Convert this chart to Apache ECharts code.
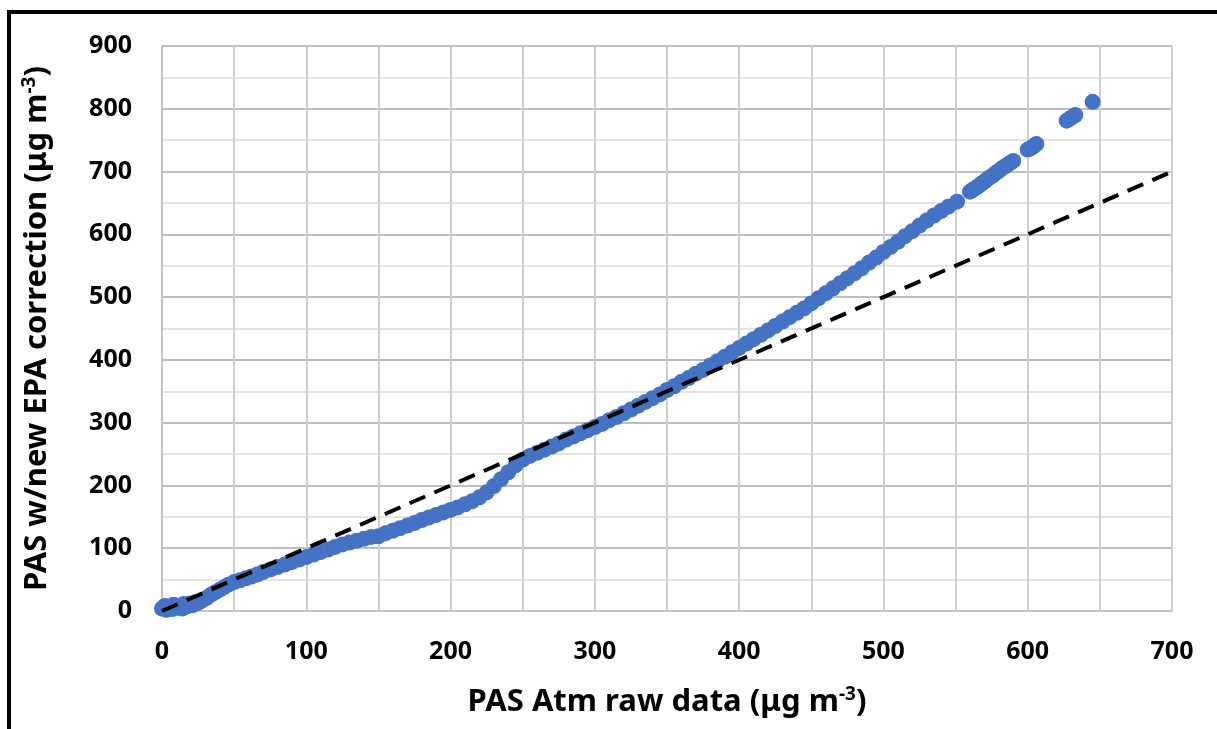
<!DOCTYPE html>
<html>
<head>
<meta charset="utf-8">
<script src="https://cdn.jsdelivr.net/npm/echarts@6/dist/echarts.min.js"></script>
<style>
  html, body { margin: 0; padding: 0; background: #fff; }
  #main { width: 1217px; height: 729px; }
</style>
</head>
<body>
<div id="main"></div>
<script>
// PAS raw vs corrected values
var rawX = [0, 2, 3, 5, 7, 8, 10, 12, 14, 15, 17, 19, 21, 23, 25, 28, 31, 34, 37, 40,
  43, 46, 50, 54, 58, 62, 66, 70, 75, 80, 85, 90, 95, 100, 105, 110, 115, 120, 125, 130,
  135, 140, 145, 150, 155, 160, 165, 170, 175, 180, 185, 190, 195, 200, 205, 210, 215, 220, 225, 230,
  235, 240, 245, 250, 255, 260, 265, 270, 275, 280, 285, 290, 295,
  300, 305, 310, 315, 320, 325, 330, 335, 340, 345, 350, 355, 360, 365, 370, 375, 380, 385, 390, 395,
  400, 405, 410, 415, 420, 425, 430, 435, 440, 445, 450, 455, 460, 465, 470, 475, 480, 485, 490, 495,
  500, 505, 510, 515, 520, 525, 530, 535, 540, 545, 551,
  560, 562, 564, 566, 568, 570, 572, 574, 576, 578, 580, 582, 584, 586, 588, 590,
  600, 602, 604, 606, 627, 629, 631, 633, 645];
var correctedY = [4, 8, 2, 6, 3, 10, 5, 8, 4, 11, 7, 12, 9, 14, 13, 17, 21, 26, 30, 34,
  38, 42, 46, 49, 52, 55, 58, 62, 66, 70, 74, 78, 82, 86, 90, 94, 98, 102, 106, 109,
  112, 115, 118, 119, 124, 128, 132, 136, 140, 145, 149, 153, 157, 161, 165, 170, 175, 181, 189, 199,
  210, 221, 232, 241, 247, 252, 257, 262, 267, 273, 278, 283, 288,
  293, 298, 304, 309, 315, 321, 327, 333, 339, 345, 352, 358, 365, 371, 378, 384, 391, 398, 405, 412,
  419, 426, 433, 440, 447, 454, 461, 468, 475, 482, 490, 498, 506, 514, 522, 530, 538, 546, 555, 563,
  572, 580, 588, 597, 605, 614, 622, 630, 637, 644, 652,
  668, 671, 674, 677, 681, 684, 688, 691, 694, 698, 701, 705, 708, 711, 714, 717,
  735, 737, 740, 744, 781, 784, 787, 790, 811];
// 1:1 reference line
var oneToOne = [[0, 0], [700, 700]];
var xTicks = [0, 100, 200, 300, 400, 500, 600, 700];

var points = rawX.map(function (x, i) { return [x, correctedY[i]]; });

var font = '"Noto Sans", "Open Sans", sans-serif';
var supStyle = { fontFamily: font, fontWeight: 'bold', fontSize: 19, color: '#000', padding: [0, 0, 15, 0] };
var chart = echarts.init(document.getElementById('main'));
var option = {
  backgroundColor: '#fff',
  animation: false,
  graphic: [{
    type: 'rect',
    shape: { x: 9, y: 12, width: 1400, height: 900 },
    style: { fill: 'none', stroke: '#000', lineWidth: 4 },
    silent: true
  }],
  grid: { left: 162, right: 45, top: 46, bottom: 118 },
  xAxis: {
    type: 'value', min: 0, max: 700, interval: 50,
    name: 'PAS Atm raw data (μg m{sup|-3})',
    nameLocation: 'middle', nameGap: 74,
    nameTextStyle: {
      fontFamily: font, fontWeight: 'bold', fontSize: 31, color: '#000',
      rich: { sup: supStyle }
    },
    axisLine: { show: true, lineStyle: { color: '#c4c4c4', width: 2 } },
    axisTick: { show: false },
    axisLabel: {
      margin: 28, fontFamily: font, fontWeight: 'bold', fontSize: 25, color: '#000',
      formatter: function (v) { return xTicks.indexOf(v) >= 0 ? String(v) : ''; }
    },
    splitLine: { show: true, lineStyle: { color: '#cfcfcf', width: 2 } }
  },
  yAxis: {
    type: 'value', min: 0, max: 900, interval: 100,
    name: 'PAS w/new EPA correction (μg m{sup|-3})',
    nameLocation: 'middle', nameGap: 108,
    nameTextStyle: {
      fontFamily: font, fontWeight: 'bold', fontSize: 31, color: '#000',
      rich: { sup: supStyle }
    },
    axisLine: { show: true, lineStyle: { color: '#c4c4c4', width: 2 } },
    axisTick: { show: false },
    minorTick: { show: false, splitNumber: 2 },
    axisLabel: { margin: 30, fontFamily: font, fontWeight: 'bold', fontSize: 25, color: '#000' },
    splitLine: { show: true, lineStyle: { color: '#a8a8a8', width: 1.5 } },
    minorSplitLine: { show: true, lineStyle: { color: '#e4e4e4', width: 2 } }
  },
  series: [{
    type: 'scatter',
    data: points,
    symbolSize: 16,
    itemStyle: { color: '#4472C4', opacity: 1 },
    z: 2
  }, {
    type: 'line',
    data: oneToOne,
    symbol: 'none',
    lineStyle: { color: '#000', width: 4, type: [17, 10] },
    z: 3
  }]
};
chart.setOption(option);
</script>
</body>
</html>
